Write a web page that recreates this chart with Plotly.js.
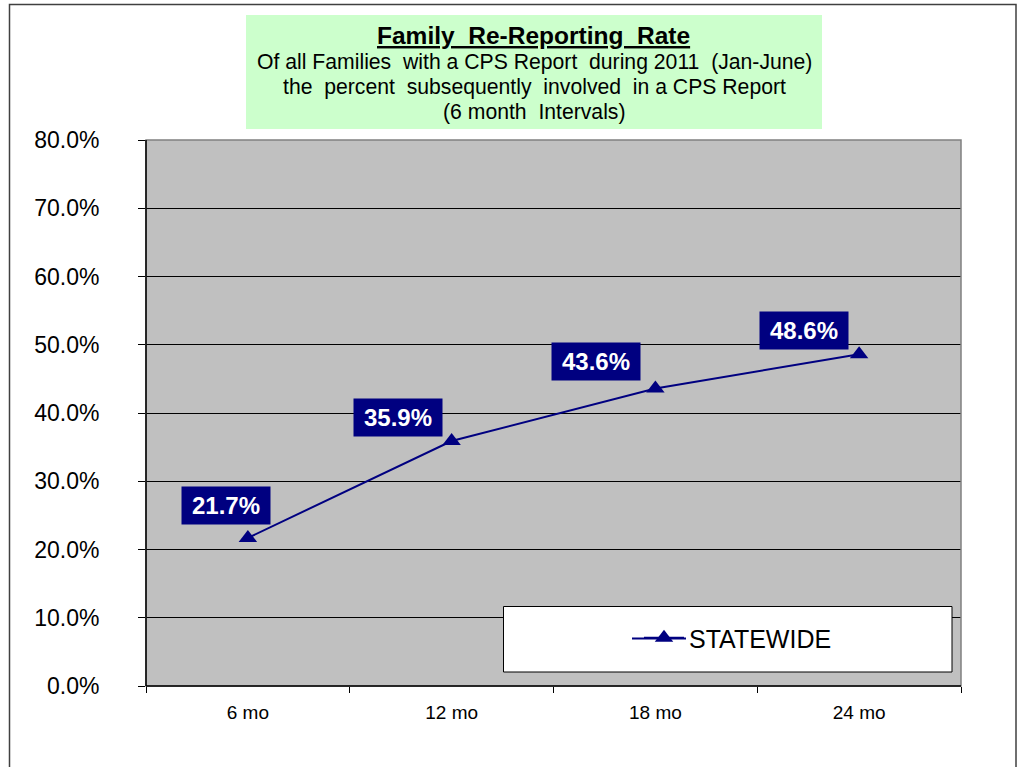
<!DOCTYPE html>
<html>
<head>
<meta charset="utf-8">
<script src="https://cdn.plot.ly/plotly-3.0.1.min.js"></script>
<style>html,body{margin:0;padding:0;background:#fff;}#chart{width:1021px;height:767px;}</style>
</head>
<body>
<div id="chart"></div>
<script>
const categories = ['6 mo', '12 mo', '18 mo', '24 mo'];
const statewide = [0.217, 0.359, 0.436, 0.486];
const labelText = ['21.7%', '35.9%', '43.6%', '48.6%'];
const yTickVals = [0, 0.1, 0.2, 0.3, 0.4, 0.5, 0.6, 0.7, 0.8];
const seriesName = 'STATEWIDE';
const titleMain = 'Family  Re-Reporting  Rate';
const titleLines = ['Of all Families  with a CPS Report  during 2011  (Jan-June)',
                    'the  percent  subsequently  involved  in a CPS Report',
                    '(6 month  Intervals)'];

const W = 1021, H = 767;
const L = 146, R = 961, T = 140, B = 686;
const px = x => (x - L) / (R - L);
const py = y => (B - y) / (B - T);
const FONT = 'Arial, Liberation Sans, sans-serif';

const labelShift = [[-22, 32], [-54, 23], [-59, 27], [-55, 24]];

const annotations = statewide.map((v, i) => ({
  x: categories[i], y: v, xref: 'x', yref: 'y',
  text: '<b>' + labelText[i] + '</b>',
  showarrow: false,
  xshift: labelShift[i][0], yshift: labelShift[i][1],
  bgcolor: '#000080', borderpad: 1, width: 86, height: 35,
  font: {family: FONT, size: 24, color: '#ffffff'}
}));

annotations.push({
  xref: 'paper', yref: 'paper', x: px(533), y: py(35), xanchor: 'center', yanchor: 'middle',
  showarrow: false, text: '<b><u>' + titleMain + '</u></b>',
  font: {family: FONT, size: 24.5, color: '#000'}
});
[62, 87, 112].forEach((yy, i) => annotations.push({
  xref: 'paper', yref: 'paper', x: px(534), y: py(yy), xanchor: 'center', yanchor: 'middle',
  showarrow: false, text: titleLines[i],
  font: {family: FONT, size: 21.2, color: '#000'}
}));

const shapes = [
  {type: 'rect', xref: 'paper', yref: 'paper', x0: px(9.5), x1: px(1016), y0: py(4.5), y1: py(780),
   line: {color: '#404040', width: 1.5}, fillcolor: 'rgba(0,0,0,0)', layer: 'below'},
  {type: 'rect', xref: 'paper', yref: 'paper', x0: px(246), x1: px(822), y0: py(15), y1: py(129),
   line: {width: 0}, fillcolor: '#ccffcc', layer: 'below'},
  {type: 'rect', xref: 'paper', yref: 'paper', x0: 0, x1: 1, y0: 0, y1: 1,
   line: {color: '#808080', width: 1.5}, fillcolor: 'rgba(0,0,0,0)', layer: 'above'},
  {type: 'line', xref: 'paper', yref: 'paper', x0: 0, x1: 0, y0: 0, y1: 1,
   line: {color: '#000', width: 1.5}, layer: 'above'},
  {type: 'line', xref: 'paper', yref: 'paper', x0: 0, x1: 1, y0: 0, y1: 0,
   line: {color: '#000', width: 1.5}, layer: 'above'},
  {type: 'rect', xref: 'paper', yref: 'paper', x0: px(503.5), x1: px(952), y0: py(606.5), y1: py(672),
   line: {color: '#000', width: 1}, fillcolor: '#ffffff', layer: 'above'},
  {type: 'line', xref: 'paper', yref: 'paper', x0: px(632), x1: px(686), y0: py(638.5), y1: py(638.5),
   line: {color: '#000080', width: 2}, layer: 'above'}
];

const trace = {
  x: categories, y: statewide, name: seriesName, type: 'scatter', mode: 'lines+markers',
  line: {color: '#000080', width: 2},
  marker: {symbol: 'triangle-up', size: 16, color: '#000080'},
  cliponaxis: false
};

const layout = {
  width: W, height: H,
  margin: {l: L, r: W - R, t: T, b: H - B, pad: 0},
  paper_bgcolor: '#ffffff', plot_bgcolor: '#c0c0c0',
  showlegend: true,
  legend: {x: px(639), y: py(638), xanchor: 'left', yanchor: 'middle',
           bgcolor: 'rgba(0,0,0,0)', borderwidth: 0,
           font: {family: FONT, size: 25, color: '#000'},
           itemwidth: 40},
  xaxis: {type: 'category', range: [-0.5, 3.5], tickson: 'boundaries', ticks: 'outside',
          ticklen: 6, tickcolor: '#000', showgrid: false, showline: false, zeroline: false,
          ticklabelstandoff: 13,
          tickfont: {family: FONT, size: 19, color: '#000'},
          fixedrange: true},
  yaxis: {range: [0, 0.8], tickvals: yTickVals, tickformat: '.1%', ticks: 'outside', ticklen: 7,
          tickcolor: '#000', showgrid: true, gridcolor: '#000', gridwidth: 1, zeroline: false,
          showline: false, ticklabelstandoff: 34,
          tickfont: {family: FONT, size: 23, color: '#000'},
          fixedrange: true},
  shapes: shapes,
  annotations: annotations
};

Plotly.newPlot('chart', [trace], layout, {displayModeBar: false, staticPlot: true});
</script>
</body>
</html>
